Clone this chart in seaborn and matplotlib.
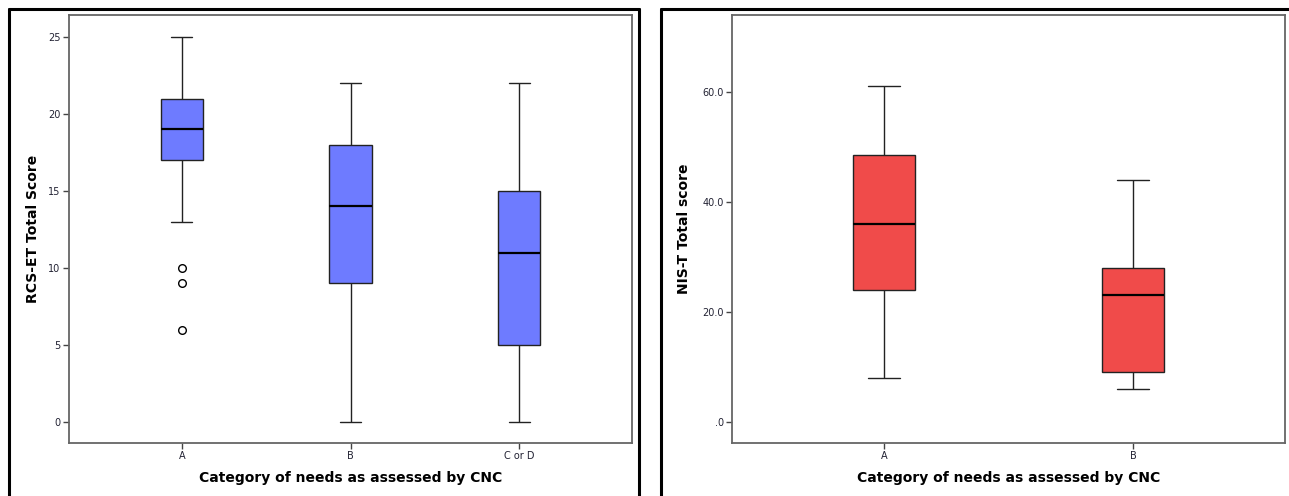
import pandas as pd
import matplotlib
matplotlib.use("Agg")
import matplotlib.pyplot as plt
from matplotlib.lines import Line2D
import seaborn as sns

# values (chosen so the box statistics match)
rcs_groups = ["A", "B", "C or D"]
rcs_a = [6, 9, 10, 13, 17, 17, 18, 18, 19, 20, 20, 21, 21, 22, 23, 24, 25]
rcs_b = [0, 5, 9, 12, 14, 16, 18, 20, 22]
rcs_cd = [0, 3, 5, 8, 11, 13, 15, 19, 22]

nis_groups = ["A", "B"]
nis_a = [8, 15, 24, 30, 36, 42, 48.5, 55, 61]
nis_b = [6, 7, 9, 18, 23, 25, 28, 36, 44]

rcs_ticks = [0, 5, 10, 15, 20, 25]
rcs_ticklabels = ["0", "5", "10", "15", "20", "25"]
nis_ticks = [0, 20, 40, 60]
nis_ticklabels = [".0", "20.0", "40.0", "60.0"]

df_rcs = pd.DataFrame({
    "group": ["A"] * len(rcs_a) + ["B"] * len(rcs_b) + ["C or D"] * len(rcs_cd),
    "score": rcs_a + rcs_b + rcs_cd,
})
df_nis = pd.DataFrame({
    "group": ["A"] * len(nis_a) + ["B"] * len(nis_b),
    "score": nis_a + nis_b,
})

sns.set_style("white")
plt.rcParams['font.family'] = ['DejaVu Sans']

W, H = 1289, 496
fig = plt.figure(figsize=(W / 100, H / 100), dpi=100)


def px_axes(x0, x1, y0, y1):
    return fig.add_axes([x0 / W, 1 - y1 / H, (x1 - x0) / W, (y1 - y0) / H])


ax1 = px_axes(69, 632, 15, 443)
ax2 = px_axes(732, 1285, 15, 443)

box_kw = dict(x="group", y="score", saturation=1, width=0.25,
              linecolor="#222222", linewidth=1.0, fliersize=5.5,
              medianprops=dict(color="black", linewidth=1.6),
              flierprops=dict(marker="o", markerfacecolor="white",
                              markeredgecolor="black", markeredgewidth=1))

sns.boxplot(data=df_rcs, order=rcs_groups, color="#6E7BFF", ax=ax1, **box_kw)
sns.boxplot(data=df_nis, order=nis_groups, color="#F04B4A", ax=ax2, **box_kw)

label_kw = dict(fontsize=10, fontweight="bold", color="black")

ax1.set_xlim(-0.67, 2.67)
ax1.set_ylim(-1.36, 26.43)
ax1.set_yticks(rcs_ticks)
ax1.set_yticklabels(rcs_ticklabels)
ax1.set_ylabel("RCS-ET Total Score", labelpad=6, **label_kw)

ax2.set_xlim(-0.61, 1.61)
ax2.set_ylim(-3.82, 74)
ax2.set_yticks(nis_ticks)
ax2.set_yticklabels(nis_ticklabels)
ax2.set_ylabel("NIS-T Total score", labelpad=8, **label_kw)

for ax in (ax1, ax2):
    ax.set_xlabel("Category of needs as assessed by CNC", labelpad=7, **label_kw)
    for s in ax.spines.values():
        s.set_visible(True)
        s.set_color("#666666")
        s.set_linewidth(1.3)
    ax.tick_params(axis="both", which="both", direction="out", length=4,
                   width=1, color="#444444", labelsize=7, labelcolor="#222233",
                   left=True, bottom=True, pad=2)

# panel frames
lw = 2.2
for x0, x1, right in [(8.5, 638.5, True), (661, W + 2, False)]:
    fx0, fx1, fy = x0 / W, x1 / W, 1 - 8.5 / H
    fig.add_artist(Line2D([fx0, fx0], [-0.01, fy], transform=fig.transFigure, color="black", lw=lw))
    fig.add_artist(Line2D([fx0, fx1], [fy, fy], transform=fig.transFigure, color="black", lw=lw))
    if right:
        fig.add_artist(Line2D([fx1, fx1], [-0.01, fy], transform=fig.transFigure, color="black", lw=lw))

fig.savefig("out.png", dpi=100)
